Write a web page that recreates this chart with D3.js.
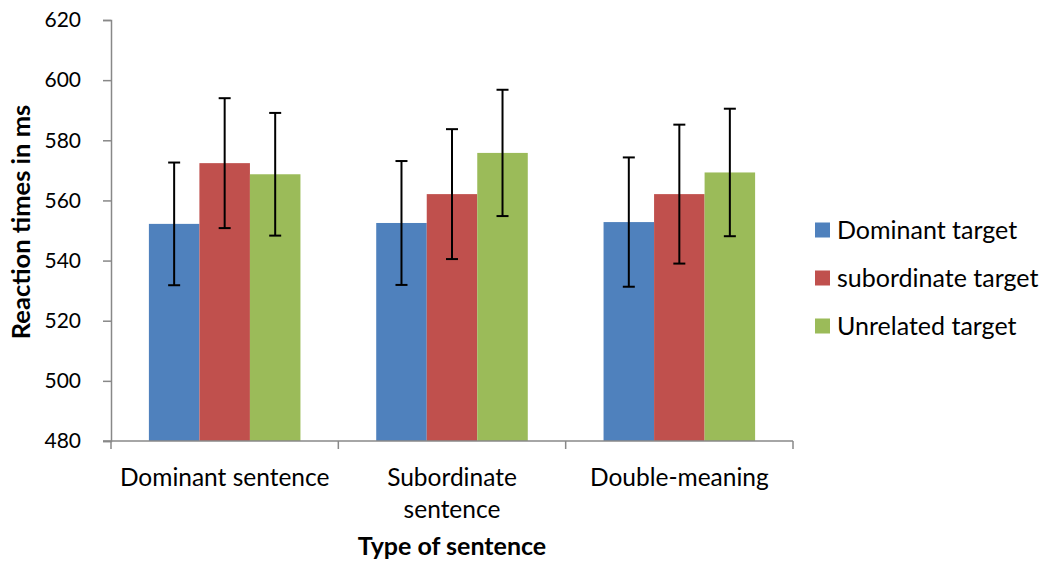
<!DOCTYPE html>
<html><head><meta charset="utf-8">
<script src="https://cdn.jsdelivr.net/npm/d3@7"></script>
<style>body{margin:0;background:#fff}svg{display:block}text{font-family:Lato,"Open Sans",sans-serif;fill:#000}</style>
</head><body><div id="chart"></div>
<script>
const categories = [["Dominant sentence"], ["Subordinate", "sentence"], ["Double-meaning"]];
const seriesNames = ["Dominant target", "subordinate target", "Unrelated target"];
const colors = ["#4F81BD", "#C0504D", "#9BBB59"];
const dominantTarget = [552.2, 552.5, 552.8];
const subordinateTarget = [572.4, 562.1, 562.1];
const unrelatedTarget = [568.7, 575.8, 569.3];
const dominantErr = [20.4, 20.6, 21.5];
const subordinateErr = [21.6, 21.6, 23.1];
const unrelatedErr = [20.4, 21.0, 21.2];
const yTicks = [480, 500, 520, 540, 560, 580, 600, 620];

(function () {
const values = [dominantTarget, subordinateTarget, unrelatedTarget];
const errs = [dominantErr, subordinateErr, unrelatedErr];

const W = 1049, H = 561;
const svg = d3.select("#chart").append("svg").attr("width", W).attr("height", H);

const mLeft = 111, mRight = 793, mTop = 20, mBottom = 441;
const x0 = d3.scaleBand().domain(d3.range(categories.length)).range([mLeft, mRight]).paddingInner(0).paddingOuter(0);
const x1 = d3.scaleBand().domain(d3.range(seriesNames.length)).range([0, x0.bandwidth()]).paddingInner(0).paddingOuter(0.75);
const y = d3.scaleLinear().domain([480, 620]).range([mBottom, mTop]);

const groups = svg.append("g").selectAll("g").data(categories).join("g")
  .attr("transform", (d, i) => `translate(${x0(i)},0)`);
seriesNames.forEach((s, si) => {
  groups.append("rect")
    .attr("x", (d, i) => x1(si))
    .attr("y", (d, i) => y(values[si][i]))
    .attr("width", x1.bandwidth())
    .attr("height", (d, i) => y(480) - y(values[si][i]))
    .attr("fill", colors[si]);
});

seriesNames.forEach((s, si) => {
  groups.each(function(d, i) {
    const g = d3.select(this);
    const cx = x1(si) + x1.bandwidth() / 2;
    const v = values[si][i], e = errs[si][i];
    g.append("line").attr("x1", cx).attr("x2", cx).attr("y1", y(v + e)).attr("y2", y(v - e))
      .attr("stroke", "#000").attr("stroke-width", 2);
    [v + e, v - e].forEach(t => {
      g.append("line").attr("x1", cx - 6).attr("x2", cx + 6).attr("y1", y(t)).attr("y2", y(t))
        .attr("stroke", "#000").attr("stroke-width", 2);
    });
  });
});

const yAxis = svg.append("g").attr("transform", `translate(${mLeft},0)`)
  .call(d3.axisLeft(y).tickValues(yTicks).tickSize(8).tickPadding(22));
yAxis.select(".domain").attr("stroke", "#888").attr("stroke-width", 1.5);
yAxis.selectAll(".tick line").attr("stroke", "#888").attr("stroke-width", 1.5);
yAxis.selectAll(".tick text").style("font-size", "21px").attr("fill", "#000")
  .style("font-family", "Lato, sans-serif");

const xAxisG = svg.append("g").attr("transform", `translate(0,${mBottom})`);
xAxisG.append("line").attr("x1", mLeft - 8).attr("x2", mRight).attr("y1", 0).attr("y2", 0)
  .attr("stroke", "#888").attr("stroke-width", 1.5);
const bounds = d3.range(categories.length + 1).map(i => i < categories.length ? x0(i) : x0(i - 1) + x0.bandwidth());
xAxisG.selectAll(".xt").data(bounds).join("line")
  .attr("x1", d => d).attr("x2", d => d).attr("y1", 0).attr("y2", 8)
  .attr("stroke", "#888").attr("stroke-width", 1.5);
categories.forEach((lines, i) => {
  const cx = x0(i) + x0.bandwidth() / 2;
  const t = xAxisG.append("text").attr("text-anchor", "middle")
    .attr("x", cx).attr("y", 45).style("font-size", "24.5px");
  lines.forEach((ln, li) => t.append("tspan").attr("x", cx).attr("dy", li === 0 ? 0 : 32).text(ln));
});

svg.append("text").attr("x", (mLeft + mRight) / 2).attr("y", 555).attr("text-anchor", "middle")
  .style("font-size", "25px").style("font-weight", "bold").text("Type of sentence");
svg.append("text").attr("transform", `translate(30,${222}) rotate(-90)`)
  .attr("text-anchor", "middle").style("font-size", "25.5px").style("font-weight", "bold")
  .text("Reaction times in ms");

const legend = svg.append("g").attr("transform", "translate(815,230)");
seriesNames.forEach((s, i) => {
  const g = legend.append("g").attr("transform", `translate(0,${i * 48})`);
  g.append("rect").attr("x", 0).attr("y", -7.5).attr("width", 15).attr("height", 15).attr("fill", colors[i]);
  g.append("text").attr("x", 22).attr("y", 9).style("font-size", "25px").text(s);
});
})();
</script></body></html>
